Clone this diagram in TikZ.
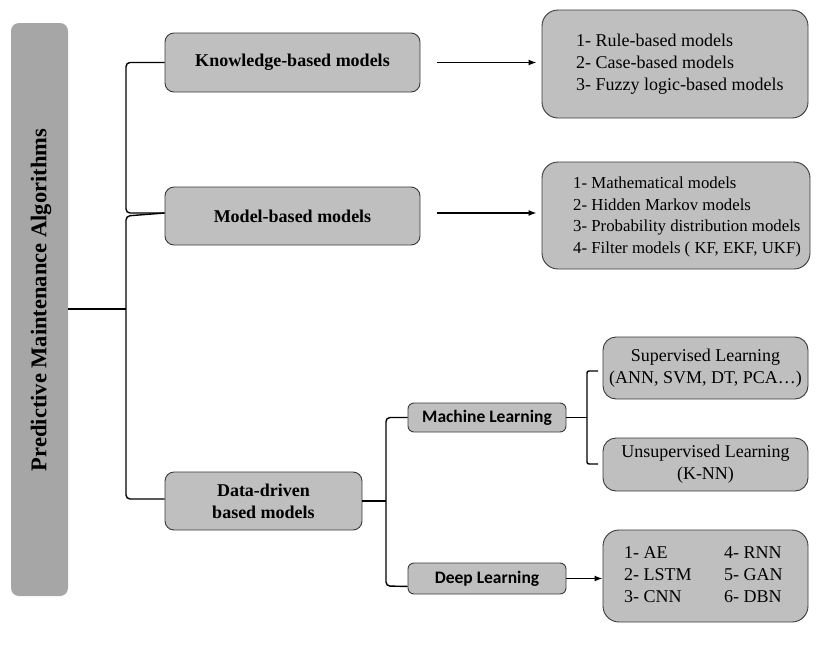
\documentclass[tikz,border=0pt]{standalone}
\usepackage{fontspec}
\setmainfont{Liberation Serif}
\newfontfamily\calfont{Carlito}
\usetikzlibrary{arrows.meta,calc}
\definecolor{boxgray}{HTML}{BFBFBF}
\definecolor{titlegray}{HTML}{A6A6A6}
\definecolor{edgegray}{HTML}{3A3A3A}
\begin{document}
\begin{tikzpicture}[x=1pt,y=-1pt,
  mainbox/.style={draw=edgegray,line width=0.9pt,fill=boxgray,rounded corners=9pt,inner sep=0pt,
    font=\fontsize{18}{21.7}\selectfont\bfseries,align=center},
  listbox/.style={draw=edgegray,line width=0.9pt,fill=boxgray,rounded corners=16pt,inner sep=0pt},
  listtext/.style={inner sep=0pt,align=left,font=\fontsize{18}{21.7}\selectfont},
  subbox/.style={draw=edgegray,line width=0.9pt,fill=boxgray,rounded corners=6pt,inner sep=0pt,
    font=\calfont\fontsize{17.5}{20}\selectfont\bfseries},
  conn/.style={line width=1.4pt,rounded corners=4pt},
  arr/.style={line width=1.4pt,-{Latex[length=8pt,width=6pt]}}]
\useasboundingbox (0,0) rectangle (820,646);

% title bar
\node[fill=titlegray,rounded corners=8pt,minimum width=57pt,minimum height=573pt,inner sep=0pt] (left) at (39.5,309.5) {};
\node[rotate=90,inner sep=0pt,font=\fontsize{22.5}{26}\selectfont\bfseries] (title) at (41,300) {Predictive Maintenance Algorithms};

% main boxes
\node[mainbox,minimum width=255pt,minimum height=59pt] (kb) at (292.5,62.5) {Knowledge-based models};
\node[mainbox,minimum width=255pt,minimum height=58pt] (mb) at (292.5,216) {Model-based models};
\node[mainbox,minimum width=197pt,minimum height=58pt] (dd) at (263.5,501) {Data-driven\\based models};

% list boxes
\node[listbox,minimum width=266pt,minimum height=108pt] (klist) at (675,64) {};
\node[listtext,anchor=west] (klisttext) at (576,64) {1- Rule-based models\\2- Case-based models\\3- Fuzzy logic-based models};
\node[listbox,minimum width=268pt,minimum height=107pt] (mlist) at (676,215.5) {};
\node[listtext,anchor=west,font=\fontsize{16.8}{21.5}\selectfont] (mlisttext) at (573,217) {1- Mathematical models\\2- Hidden Markov models\\3- Probability distribution models\\4- Filter models ( KF, EKF, UKF)};

% data-driven subtree
\node[subbox,minimum width=158pt,minimum height=29pt] (ml) at (487,417.5) {Machine Learning};
\node[subbox,minimum width=158pt,minimum height=31pt] (dl) at (487,578.5) {Deep Learning};
\node[listbox,rounded corners=13pt,minimum width=205pt,minimum height=62pt,listtext,align=center] (sup) at (705.5,368) {Supervised Learning\\(ANN, SVM, DT, PCA\ldots)};
\node[listbox,rounded corners=13pt,minimum width=205pt,minimum height=53pt,listtext,align=center] (unsup) at (705.5,464.5) {Unsupervised Learning\\(K-NN)};
\node[listbox,minimum width=205pt,minimum height=92pt] (dll) at (705.5,576) {};
\node[listtext,anchor=west] (dlltext) at (624,576) {\begin{tabular}{@{}p{100pt}@{}l@{}}1- AE & 4- RNN\\2- LSTM & 5- GAN\\3- CNN & 6- DBN\end{tabular}};

% connectors: main tree
\coordinate (j1) at (126,309);
\draw[conn] (left.east |- j1) -- (j1);
\draw[conn] (kb.west) -- (126,62.5) -- (126,213) -- ($(mb.west)+(0,-3)$);
\draw[conn] ($(mb.west)+(0,-3)$) -- (126,216) -- (126,499) -- ($(dd.west)+(0,-2)$);

% arrows
\draw[arr,shorten <=17pt,shorten >=5pt] (kb.east) -- (klist.west |- kb.east);
\draw[arr,shorten <=17pt,shorten >=5pt] ($(mb.east)+(0,-3)$) -- ($(mlist.west)+(0,-2.5)$);
\draw[arr] (dl.east) -- (dll.west |- dl.east);

% data-driven brace
\coordinate (j2) at (386,501);
\draw[conn] (dd.east) -- (j2);
\draw[conn] (ml.west) -- (386,417.5) -- (386,586) -- ($(dl.south west)+(0,-8)$);

% machine learning brace
\coordinate (s1) at (598,371);
\coordinate (s2) at (598,464);
\draw[conn,rounded corners=2pt] (ml.east) -- (587,417.5);
\draw[conn,rounded corners=2pt] (s1) -- (587,371) -- (587,464) -- (s2);
\end{tikzpicture}
\end{document}
